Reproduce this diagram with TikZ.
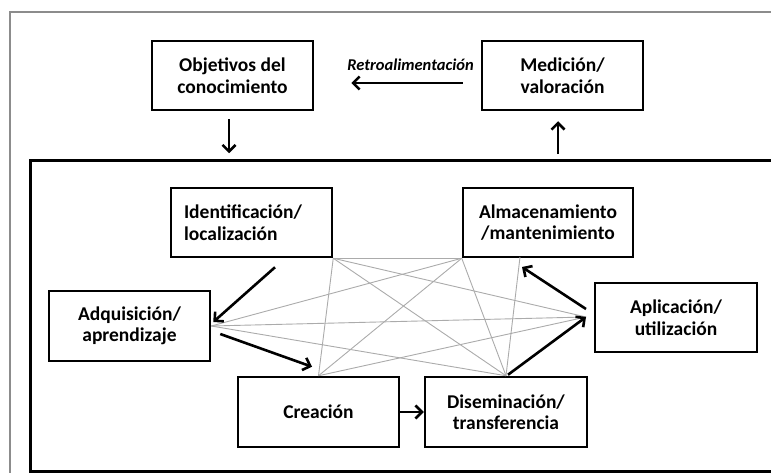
\documentclass[tikz,border=0pt]{standalone}
\usepackage{fontspec}
\setmainfont{Carlito}
\usetikzlibrary{arrows.meta,calc}
\begin{document}
\begin{tikzpicture}[x=1pt,y=-1pt,
  box/.style={draw, line width=2.5pt, minimum width=161pt, minimum height=69pt, inner sep=0pt,
    font=\fontsize{19.5}{21.5}\selectfont\bfseries, align=center},
  boxtext/.style={font=\fontsize{19.5}{21.5}\selectfont\bfseries, align=left, inner sep=0pt},
  flow/.style={line width=2.6pt, -{Straight Barb[length=6.5pt,width=13pt]}},
  web/.style={line width=0.9pt, draw=black!33}]
\useasboundingbox (0,0) rectangle (771,473);
\begin{scope}
\clip (0,0) rectangle (771,473);
\draw[draw=black!45, line width=1.6pt] (10,12) rectangle (800,500);
\draw[line width=3pt] (30,161) rectangle (810,471.5);
\end{scope}

\node[box] (obj) at (232.5,75.5) {Objetivos del\\conocimiento};
\node[box] (med) at (562.5,75.5) {Medición/\\valoración};
\node[box, label={[boxtext, xshift=-8.5pt]center:Identificación/\\localización}] (ide) at (251.5,222.5) {};
\node[box, minimum width=170pt] (alm) at (548,222.5) {Almacenamiento\\/mantenimiento};
\node[box, minimum height=70pt] (adq) at (129.5,326) {Adquisición/\\aprendizaje};
\node[box, minimum height=70pt] (cre) at (318.5,412) {Creación};
\node[box, minimum width=162pt, minimum height=70pt] (dis) at (506,412) {Diseminación/\\transferencia};
\node[box, minimum width=162pt] (apl) at (676,317.5) {Aplicación/\\utilización};

\node[font=\fontsize{16.5}{18}\selectfont\bfseries\itshape, inner sep=0pt] (ret) at (410.5,65) {Retroalimentación};

\coordinate (A) at (ide.south east);
\coordinate (B) at (alm.south west);
\coordinate (B2) at (520,257);
\coordinate (C) at (adq.east);
\coordinate (D) at (cre.north);
\coordinate (E) at (dis.north);
\coordinate (F) at (586,317);

\draw[web] (A) -- (B);
\draw[web] (A) -- (D);
\draw[web] (A) -- (E);
\draw[web] (A) -- (F);
\draw[web] (B) -- (C);
\draw[web] (B) -- (D);
\draw[web] (B) -- (E);
\draw[web] (B2) -- (E);
\draw[web] (C) -- (E);
\draw[web] (C) -- (F);
\draw[web] (D) -- (F);

\draw[flow] ($(med.west)+(-18,7.5)$) -- ($(obj.east)+(37,7.5)$);
\draw[flow] ($(obj.south)+(-3.5,8)$) -- ($(obj.south)+(-3.5,42)$);
\draw[flow] ($(med.south)+(-4.5,43)$) -- ($(med.south)+(-4.5,10)$);

\draw[flow] ($(ide.south)+(23.5,9)$) -- ($(adq.east)+(2,-4)$);
\draw[flow] ($(adq.east)+(9,8)$) -- ($(cre.north)+(-6.5,-9)$);
\draw[flow] (cre.east) -- (dis.west);
\draw[flow] ($(E)+(2,-1)$) -- (F);
\draw[flow] ($(F)+(0,-8)$) -- ($(B2)+(2,10)$);
\end{tikzpicture}
\end{document}
